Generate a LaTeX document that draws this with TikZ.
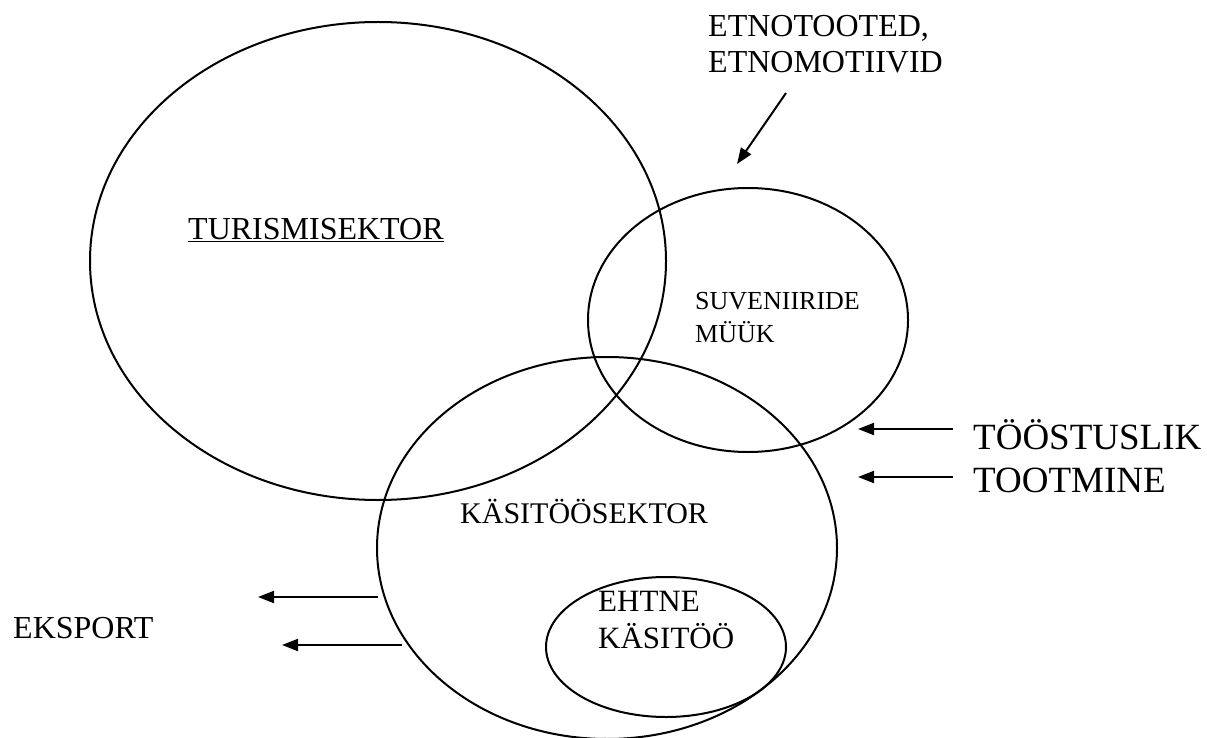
\documentclass[tikz,border=0pt]{standalone}
\usepackage{fontspec}
\setmainfont{Liberation Serif}
\usetikzlibrary{shapes.geometric,arrows.meta}
\begin{document}
\begin{tikzpicture}[x=1pt,y=-1pt,
  ring/.style={draw, ellipse, line width=2pt, inner sep=0pt},
  lbl/.style={anchor=base west, inner sep=0pt},
  arr/.style={line width=2pt, -{Triangle[length=16pt,width=12pt]}}]
\useasboundingbox (0,0) rectangle (1207,738);
% ellipses
\node[ring, minimum width=576pt, minimum height=478pt] (tur) at (378,261) {};
\node[ring, minimum width=320pt, minimum height=264pt] (suv) at (748,320) {};
\node[ring, minimum width=460pt, minimum height=382pt] (kas) at (607,548) {};
\node[ring, minimum width=240pt, minimum height=140pt] (eht) at (666,647) {};
% labels
\node[lbl, font=\fontsize{32}{36}\selectfont] (turl) at (188,239) {\underline{TURISMISEKTOR}};
\node[lbl, font=\fontsize{32}{36}\selectfont] (etn1) at (708,37) {ETNOTOOTED,};
\node[lbl, font=\fontsize{32}{36}\selectfont] (etn2) at (708,73) {ETNOMOTIIVID};
\node[lbl, font=\fontsize{26}{30}\selectfont] (suv1) at (695,309) {SUVENIIRIDE};
\node[lbl, font=\fontsize{26}{30}\selectfont] (suv2) at (695,342) {MÜÜK};
\node[lbl, font=\fontsize{30}{34}\selectfont] (kasl) at (460,523) {KÄSITÖÖSEKTOR};
\node[lbl, font=\fontsize{31}{35}\selectfont] (eht1) at (598,611) {EHTNE};
\node[lbl, font=\fontsize{31}{35}\selectfont] (eht2) at (598,648) {KÄSITÖÖ};
\node[lbl, font=\fontsize{37}{42}\selectfont] (too1) at (973,449) {TÖÖSTUSLIK};
\node[lbl, font=\fontsize{37}{42}\selectfont] (too2) at (973,492) {TOOTMINE};
\node[lbl, font=\fontsize{32}{36}\selectfont] (eks) at (13,638) {EKSPORT};
% arrow end points
\coordinate (a1s) at (786,93);  \coordinate (a1e) at (737,164);
\coordinate (t1s) at (953,429); \coordinate (t1e) at (858,429);
\coordinate (t2s) at (953,477); \coordinate (t2e) at (858,477);
\coordinate (k1s) at (378,597); \coordinate (k1e) at (258,597);
\coordinate (k2s) at (402,645); \coordinate (k2e) at (282,645);
\draw[arr] (a1s) -- (a1e);
\draw[arr] (t1s) -- (t1e);
\draw[arr] (t2s) -- (t2e);
\draw[arr] (k1s) -- (k1e);
\draw[arr] (k2s) -- (k2e);
\end{tikzpicture}
\end{document}
